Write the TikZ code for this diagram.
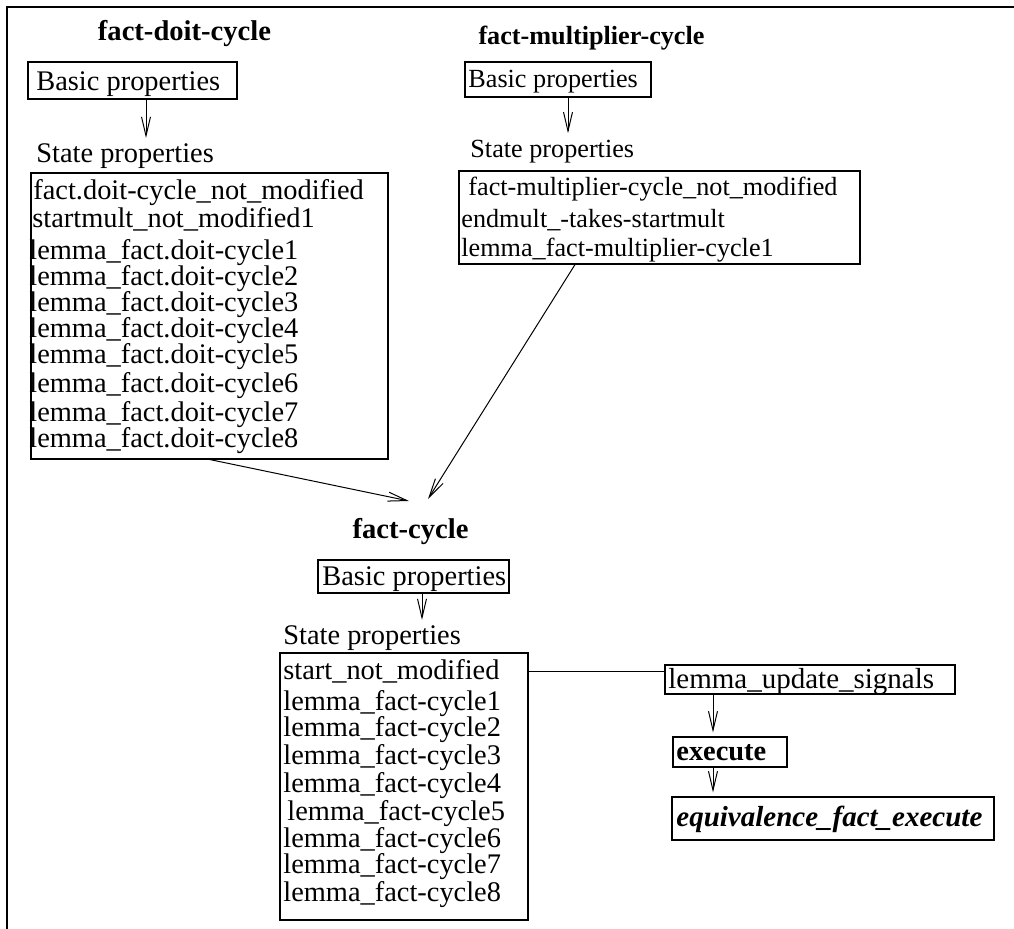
\documentclass[tikz,border=0pt]{standalone}
\usepackage{fontspec}
\setmainfont{Liberation Serif}
\usetikzlibrary{arrows.meta,fit}

\begin{document}
\begin{tikzpicture}[x=0.5pt,y=-0.5pt,
  box/.style={draw, inner sep=0pt, line width=0.6pt},
  txt/.style={anchor=base west, inner sep=0pt, font=\fontsize{14.2pt}{17pt}\selectfont},
  txtw/.style={anchor=base west, inner sep=0pt, font=\fontsize{14.5pt}{17pt}\selectfont},
  txts/.style={anchor=base west, inner sep=0pt, font=\fontsize{13.1pt}{16pt}\selectfont},
  ttl/.style={anchor=base, inner sep=0pt, font=\fontsize{14.3pt}{17pt}\selectfont\bfseries},
  ttls/.style={anchor=base, inner sep=0pt, font=\fontsize{13.1pt}{16pt}\selectfont\bfseries},
  arr/.style={-{Straight Barb[length=9.5pt,width=4.5pt]}, line width=0.5pt},
  link/.style={line width=0.5pt}]
\useasboundingbox (0,0) rectangle (1014,929);

% page frame (top and left rules)
\draw[line width=1.25pt] (7,929) -- (7,7) -- (1014,7);

% ---------- fact-doit-cycle ----------
\node[ttl] (doitTitle) at (184.5,41) {fact-doit-cycle};
\node[box, fit={(28,62) (237,99)}] (doitBasic) {};
\node[txt] (doitBasicTxt) at (36,91) {Basic properties};
\node[txt] (doitStateLbl) at (36,163) {State properties};
\node[box, fit={(31,173) (388,459)}] (doitState) {};
\node[txt] (d1) at (33,200) {fact.doit-cycle\_not\_modified};
\node[txt] (d2) at (32,228) {startmult\_not\_modified1};
\node[txt] (d3) at (29,260) {lemma\_fact.doit-cycle1};
\node[txt] (d4) at (29,286) {lemma\_fact.doit-cycle2};
\node[txt] (d5) at (29,312) {lemma\_fact.doit-cycle3};
\node[txt] (d6) at (29,338) {lemma\_fact.doit-cycle4};
\node[txt] (d7) at (29,364) {lemma\_fact.doit-cycle5};
\node[txt] (d8) at (29,393) {lemma\_fact.doit-cycle6};
\node[txt] (d9) at (29,422) {lemma\_fact.doit-cycle7};
\node[txt] (d10) at (29,448) {lemma\_fact.doit-cycle8};
\draw[arr, shorten >=2.9pt] (146,0 |- doitBasic.south) -- (146,0 |- doitStateLbl.north);

% ---------- fact-multiplier-cycle ----------
\node[ttls] (multTitle) at (591.5,45) {fact-multiplier-cycle};
\node[box, fit={(465,62) (651,97)}] (multBasic) {};
\node[txts] (multBasicTxt) at (468,88) {Basic properties};
\node[txts] (multStateLbl) at (470,158) {State properties};
\node[box, fit={(459,171) (860,264)}] (multState) {};
\node[txts] (m1) at (468,196) {fact-multiplier-cycle\_not\_modified};
\node[txts] (m2) at (461,228) {endmult\_-takes-startmult};
\node[txts] (m3) at (461,257) {lemma\_fact-multiplier-cycle1};
\draw[arr, shorten >=3.5pt] (568,0 |- multBasic.south) -- (568,0 |- multStateLbl.north);

% ---------- fact-cycle ----------
\node[ttl] (fcTitle) at (410.5,539) {fact-cycle};
\coordinate (doitTip) at (409,501);
\coordinate (multTip) at (428,499);
\draw[arr] (210,0 |- doitState.south) -- (doitTip);
\draw[arr] (575,0 |- multState.south) -- (multTip);

\node[box, fit={(318,560) (509,593)}] (fcBasic) {};
\node[txt] (fcBasicTxt) at (322,586) {Basic properties};
\node[txt] (fcStateLbl) at (283,645) {State properties};
\node[box, fit={(280,653) (528,920)}] (fcState) {};
\node[txt] (c0) at (283,680) {start\_not\_modified};
\node[txt] (c1) at (283,711) {lemma\_fact-cycle1};
\node[txt] (c2) at (283,737) {lemma\_fact-cycle2};
\node[txt] (c3) at (283,765) {lemma\_fact-cycle3};
\node[txt] (c4) at (283,793) {lemma\_fact-cycle4};
\node[txt] (c5) at (287,821) {lemma\_fact-cycle5};
\node[txt] (c6) at (283,848) {lemma\_fact-cycle6};
\node[txt] (c7) at (283,874) {lemma\_fact-cycle7};
\node[txt] (c8) at (283,902) {lemma\_fact-cycle8};
\draw[arr, shorten >=2.9pt] (422,0 |- fcBasic.south) -- (422,0 |- fcStateLbl.north);

% ---------- signals and execution ----------
\node[box, fit={(665,665) (955,694)}] (update) {};
\node[txtw] (updateTxt) at (668,689) {lemma\_update\_signals};
\node[box, fit={(673,737) (787,767)}] (exec) {};
\node[txt, font=\fontsize{14.2pt}{17pt}\selectfont\bfseries] (execTxt) at (676,761) {execute};
\node[box, fit={(672,797) (994,840)}] (equiv) {};
\node[txtw, font=\fontsize{14.5pt}{17pt}\selectfont\bfseries\itshape] (equivTxt) at (676,827) {equivalence\_fact\_execute};

\draw[link] (fcState.east |- 0,672) -- (update.west |- 0,672);
\draw[arr, shorten >=2pt] (713,0 |- update.south) -- (713,0 |- exec.north);
\draw[arr, shorten >=2pt] (713,0 |- exec.south) -- (713,0 |- equiv.north);
\end{tikzpicture}
\end{document}
